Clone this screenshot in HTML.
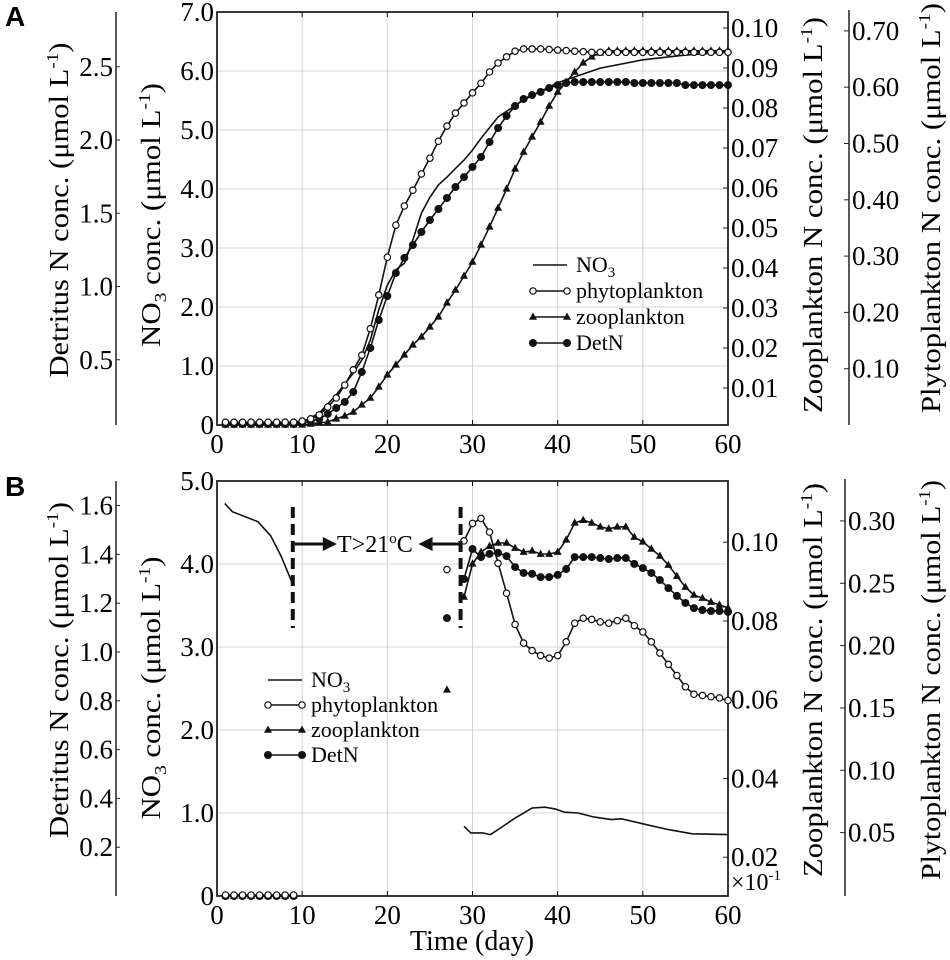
<!DOCTYPE html>
<html><head><meta charset="utf-8"><style>
html,body{margin:0;padding:0;background:#fff}
svg{display:block;font-family:"Liberation Serif",serif}
</style></head><body>
<svg id="chart" width="950" height="960" viewBox="0 0 950 960" xmlns="http://www.w3.org/2000/svg">
<text x="5" y="26" font-family="Liberation Sans, sans-serif" font-weight="bold" font-size="28">A</text>
<text x="5" y="496" font-family="Liberation Sans, sans-serif" font-weight="bold" font-size="28">B</text>
<text x="472" y="950" text-anchor="middle" font-size="28">Time (day)</text>
<g id="layer"></g>
</svg>
<script>
// ---------- data: panel A ----------
const daysA = Array.from({length:60},(_, i)=>i+1);
const phytoA = [0.005,0.005,0.005,0.005,0.005,0.005,0.005,0.005,0.005,0.007,0.011,0.018,0.032,0.048,0.071,0.098,0.124,0.171,0.231,0.298,0.355,0.389,0.417,0.446,0.474,0.504,0.531,0.554,0.572,0.590,0.607,0.627,0.643,0.654,0.664,0.668,0.668,0.668,0.667,0.666,0.665,0.664,0.663,0.662,0.662,0.662,0.662,0.662,0.662,0.662,0.662,0.662,0.662,0.662,0.662,0.662,0.662,0.662,0.662,0.662];
const zooA = [0.0008,0.0008,0.0008,0.0008,0.0008,0.0008,0.0008,0.0008,0.0008,0.0008,0.001,0.0013,0.0015,0.0023,0.003,0.004,0.0058,0.0075,0.0103,0.0133,0.0158,0.0183,0.0208,0.0228,0.0253,0.0278,0.0313,0.0345,0.038,0.0415,0.0458,0.0503,0.055,0.0598,0.0648,0.069,0.0728,0.0765,0.0805,0.084,0.0865,0.089,0.0913,0.0928,0.0938,0.0943,0.0943,0.0943,0.0943,0.0943,0.0943,0.0943,0.0943,0.0943,0.0943,0.0943,0.0943,0.0943,0.0943,0.0943];
const detA = [0.061,0.061,0.061,0.061,0.061,0.061,0.061,0.061,0.061,0.068,0.082,0.096,0.130,0.171,0.212,0.280,0.416,0.580,0.771,0.935,1.092,1.195,1.283,1.372,1.454,1.529,1.604,1.679,1.747,1.816,1.884,1.986,2.082,2.164,2.232,2.280,2.307,2.328,2.355,2.375,2.389,2.396,2.396,2.396,2.396,2.396,2.396,2.396,2.389,2.389,2.389,2.389,2.389,2.389,2.375,2.375,2.375,2.375,2.375,2.375];
const no3DaysA = [1,5,9,10,12,14,16,17,18,19,20,21,22,23,24,25,26,27,28,29,30,31,33,36,40,42,45,50,55,60];
const no3A = [0.03,0.03,0.03,0.05,0.2,0.51,0.88,1.10,1.44,1.95,2.37,2.63,2.74,3.14,3.59,3.86,4.07,4.20,4.35,4.49,4.66,4.86,5.22,5.51,5.80,5.90,6.05,6.19,6.27,6.32];
// ---------- data: panel B ----------
const daysB = [1,2,3,4,5,6,7,8,9,27,29,30,31,32,33,34,35,36,37,38,39,40,41,42,43,44,45,46,47,48,49,50,51,52,53,54,55,56,57,58,59,60];
const phytoB = [0,0,0,0,0,0,0,0,0,0.261,0.284,0.298,0.302,0.291,0.266,0.242,0.217,0.202,0.196,0.192,0.190,0.192,0.203,0.218,0.222,0.221,0.219,0.218,0.220,0.222,0.216,0.211,0.203,0.194,0.185,0.176,0.167,0.161,0.160,0.159,0.158,0.156];
const zooB = [0.0197,0.0197,0.0197,0.0197,0.0197,0.0197,0.0197,0.0197,0.0197,0.0625,0.0861,0.0945,0.0975,0.099,0.0998,0.0998,0.0985,0.0975,0.0978,0.097,0.097,0.0975,0.1006,0.1049,0.1056,0.1049,0.1039,0.1034,0.1039,0.1039,0.1013,0.1001,0.0983,0.0965,0.0942,0.0914,0.0886,0.0866,0.0858,0.0848,0.0841,0.0833];
const detB = [0,0,0,0,0,0,0,0,0,1.139,1.299,1.422,1.389,1.402,1.406,1.393,1.348,1.324,1.320,1.307,1.307,1.316,1.340,1.389,1.389,1.389,1.385,1.381,1.385,1.385,1.361,1.344,1.324,1.295,1.262,1.230,1.201,1.180,1.172,1.168,1.168,1.164];
const no3DaysB1 = [0.9,1.8,4.8,6.3,7.5,8.6,8.8];
const no3B1 = [4.73,4.63,4.51,4.34,4.10,3.83,3.78];
const no3DaysB2 = [29,29.8,31.2,32.1,33,35,37,38.5,39.7,40.8,42.4,44.3,46.3,47.5,50,53,55.8,60];
const no3B2 = [0.84,0.76,0.76,0.74,0.80,0.94,1.06,1.07,1.05,1.01,1.0,0.95,0.92,0.93,0.87,0.80,0.75,0.74];
// tick labels
const xTicks = [0,10,20,30,40,50,60];
const no3TicksA = [0,1,2,3,4,5,6,7];
const detTicksA = [0.5,1.0,1.5,2.0,2.5];
const zooTicksA = [0.01,0.02,0.03,0.04,0.05,0.06,0.07,0.08,0.09,0.10];
const phyTicksA = [0.10,0.20,0.30,0.40,0.50,0.60,0.70];
const no3TicksB = [0,1,2,3,4,5];
const detTicksB = [0.2,0.4,0.6,0.8,1.0,1.2,1.4,1.6];
const zooTicksB = [0.02,0.04,0.06,0.08,0.10];
const phyTicksB = [0.05,0.10,0.15,0.20,0.25,0.30];

const NS="http://www.w3.org/2000/svg";
const layer=document.getElementById('layer');
function mk(tag,attrs,parent){const e=document.createElementNS(NS,tag);for(const k in attrs)e.setAttribute(k,attrs[k]);(parent||layer).appendChild(e);return e;}
const X0=217,X1=728;
const FS=27;
const xS=d=>X0+(X1-X0)*d/60;
const A={top:12,bot:425,no3:v=>425-59*v,det:v=>433-146.5*v,zoo:v=>428-4000*v,phy:v=>425-563*v};
const B={top:481,bot:896,no3:v=>896-83*v,det:v=>896-244*v,zoo:v=>936-3938*v,phy:v=>895-1247*v};

function panel(P,no3Ticks,detTicks,zooTicks,phyTicks,tag,phyX){
  const g=mk('g',{});
  
  
  no3Ticks.forEach(t=>{if(t>0&&P.no3(t)>P.top+2){const l=mk('line',{x1:X0,x2:X1,y1:P.no3(t),y2:P.no3(t),stroke:'#d4d4d4','stroke-width':1},g);}});
  xTicks.forEach(t=>{if(t>0&&t<60){const l=mk('line',{x1:xS(t),x2:xS(t),y1:P.top,y2:P.bot,stroke:'#d4d4d4','stroke-width':1},g);
    mk('line',{x1:xS(t),x2:xS(t),y1:P.bot,y2:P.bot-5,stroke:'#000'},g);mk('line',{x1:xS(t),x2:xS(t),y1:P.top,y2:P.top+5,stroke:'#000'},g);}});
  const box=mk('rect',{x:X0,y:P.top,width:X1-X0,height:P.bot-P.top,fill:'none',stroke:'#222','stroke-width':1.8},g);
  
  xTicks.forEach(t=>{const e=mk('text',{x:xS(t),y:P.bot+28,'text-anchor':'middle','font-size':FS},g);e.textContent=t;
    });
  no3Ticks.forEach(t=>{const e=mk('text',{x:214,y:P.no3(t)+9,'text-anchor':'end','font-size':FS},g);e.textContent=t===0?'0':t.toFixed(1);
    });
  const dl=mk('line',{x1:116,x2:116,y1:P.top,y2:P.bot,stroke:'#222','stroke-width':1.5},g);
  
  detTicks.forEach(t=>{mk('line',{x1:116,x2:120,y1:P.det(t),y2:P.det(t),stroke:'#222'},g);
    const e=mk('text',{x:113,y:P.det(t)+9,'text-anchor':'end','font-size':FS},g);e.textContent=t.toFixed(1);
    });
  zooTicks.forEach(t=>{mk('line',{x1:X1,x2:X1-5,y1:P.zoo(t),y2:P.zoo(t),stroke:'#222'},g);
    const e=mk('text',{x:731,y:P.zoo(t)+9,'font-size':FS},g);e.textContent=t.toFixed(2);
    });
  const pl=mk('line',{x1:phyX,x2:phyX,y1:P.top-2,y2:P.bot,stroke:'#222','stroke-width':1.5},g);
  
  phyTicks.forEach(t=>{mk('line',{x1:phyX,x2:phyX-5,y1:P.phy(t),y2:P.phy(t),stroke:'#222'},g);
    const e=mk('text',{x:phyX+3,y:P.phy(t)+9,'font-size':FS},g);e.textContent=t.toFixed(2);
    });
}
function title(x,cy,len,parts,name){
  const t=mk('text',{transform:`translate(${x},${cy}) rotate(-90)`,'text-anchor':'middle','font-size':27,textLength:len,lengthAdjust:'spacingAndGlyphs'});
  
  
  parts.forEach(p=>{const a={'font-size':p[2]||27};if(p[1])a.dy=p[1];const s=mk('tspan',a,t);s.textContent=p[0];});
}
function lineSeries(days,vals,xs,ys,name,gapMax){
  let d='';let prev=null;
  days.forEach((dd,i)=>{const px=xs(dd),py=ys(vals[i]);d+=(prev!==null&&dd-prev<=gapMax?'L':'M')+px.toFixed(1)+','+py.toFixed(1);prev=dd;});
  const p=mk('path',{d:d,fill:'none',stroke:'#111','stroke-width':1.6});
  
  
}
function marker(type,x,y,parent){
  if(type==='o')return mk('circle',{cx:x,cy:y,r:3.2,fill:'#fff',stroke:'#111','stroke-width':1.2},parent);
  if(type==='t')return mk('path',{d:`M${x},${y-4.5}L${x+4},${y+2.8}L${x-4},${y+2.8}Z`,fill:'#111'},parent);
  return mk('circle',{cx:x,cy:y,r:4,fill:'#111'},parent);
}
function markerSeries(days,vals,ys,type,name){
  lineSeries(days,vals,xS,ys,name+'-line',1.01);
  const g=mk('g',{});
  
  
  days.forEach((d,i)=>marker(type,xS(d),ys(vals[i]),g));
}
function legend(x,y0,dy,name){
  const g=mk('g',{});
  
  
  const rows=[['NO3',null],['phytoplankton','o'],['zooplankton','t'],['DetN','f']];
  rows.forEach((r,i)=>{const y=y0+i*dy;
    mk('line',{x1:x,x2:x+34,y1:y,y2:y,stroke:'#111','stroke-width':1.6},g);
    if(r[1]){marker(r[1],x,y,g);marker(r[1],x+34,y,g);}
    const t=mk('text',{x:x+43,y:y+7,'font-size':22},g);
    
    
    if(i===0){t.textContent='NO';const s=mk('tspan',{'font-size':15,dy:5},t);s.textContent='3';}else t.textContent=r[0];
  });
}
const unitTail=[[' conc. (μmol L'],['-1',-10,17],[')',10]];

// ---------- Panel A ----------
panel(A,no3TicksA,detTicksA,zooTicksA,phyTicksA,'panel-a',849);
title(68,210,335,[['Detritus N conc. (μmol L'],['-1',-10,17],[')',10]],'panel-a-detritus-axis-title');
title(160,215,264,[['NO'],['3',6,17],[' conc. (μmol L',-6],['-1',-10,17],[')',10]],'panel-a-no3-axis-title');
title(822,215,396,[['Zooplankton N conc. (μmol L'],['-1',-10,17],[')',10]],'panel-a-zooplankton-axis-title');
title(940,208,410,[['Plytoplankton N conc. (μmol L'],['-1',-10,17],[')',10]],'panel-a-phytoplankton-axis-title');
lineSeries(no3DaysA,no3A,xS,A.no3,'panel-a-no3-line',100);
markerSeries(daysA,zooA,A.zoo,'t','panel-a-zooplankton');
markerSeries(daysA,detA,A.det,'f','panel-a-detn');
markerSeries(daysA,phytoA,A.phy,'o','panel-a-phytoplankton');
legend(533,265,26,'panel-a-legend');

// ---------- Panel B ----------
panel(B,no3TicksB,detTicksB,zooTicksB,phyTicksB,'panel-b',845);
title(68,670,336,[['Detritus N conc. (μmol L'],['-1',-10,17],[')',10]],'panel-b-detritus-axis-title');
title(160,688,263,[['NO'],['3',6,17],[' conc. (μmol L',-6],['-1',-10,17],[')',10]],'panel-b-no3-axis-title');
title(822,680,394,[['Zooplankton N conc. (μmol L'],['-1',-10,17],[')',10]],'panel-b-zooplankton-axis-title');
title(940,680,400,[['Plytoplankton N conc. (μmol L'],['-1',-10,17],[')',10]],'panel-b-phytoplankton-axis-title');
lineSeries(no3DaysB1,no3B1,xS,B.no3,'panel-b-no3-line-early',100);
lineSeries(no3DaysB2,no3B2,xS,B.no3,'panel-b-no3-line-late',100);
markerSeries(daysB,zooB.map((v,i)=>daysB[i]<10?0:v),v=>v===0?B.bot:B.zoo(v),'t','panel-b-zooplankton');
markerSeries(daysB,detB,B.det,'f','panel-b-detn');
markerSeries(daysB,phytoB,B.phy,'o','panel-b-phytoplankton');
legend(268,680,25,'panel-b-legend');
const mul=mk('text',{x:731,y:890,'font-size':24});


mul.textContent='×10';
const sup=mk('tspan',{'font-size':15,dy:-10},mul);sup.textContent='-1';
const ann=mk('g',{});


[8.9,28.6].forEach(d=>mk('line',{x1:xS(d),x2:xS(d),y1:507,y2:628,stroke:'#111','stroke-width':4,'stroke-dasharray':'11,6'},ann));
mk('line',{x1:xS(8.9)+2,x2:xS(8.9)+34,y1:544,y2:544,stroke:'#111','stroke-width':3},ann);
mk('path',{d:`M${xS(8.9)+44},544 L${xS(8.9)+30},537 L${xS(8.9)+30},551Z`,fill:'#111'},ann);
mk('line',{x1:xS(28.6)-2,x2:xS(28.6)-32,y1:544,y2:544,stroke:'#111','stroke-width':3},ann);
mk('path',{d:`M${xS(28.6)-42},544 L${xS(28.6)-28},537 L${xS(28.6)-28},551Z`,fill:'#111'},ann);
const at=mk('text',{x:337,y:552,'font-size':24},ann);


at.textContent='T>21';
const ao=mk('tspan',{'font-size':15,dy:-9},at);ao.textContent='o';
const ac=mk('tspan',{dy:9,'font-size':24},at);ac.textContent='C';
</script>
</body></html>
